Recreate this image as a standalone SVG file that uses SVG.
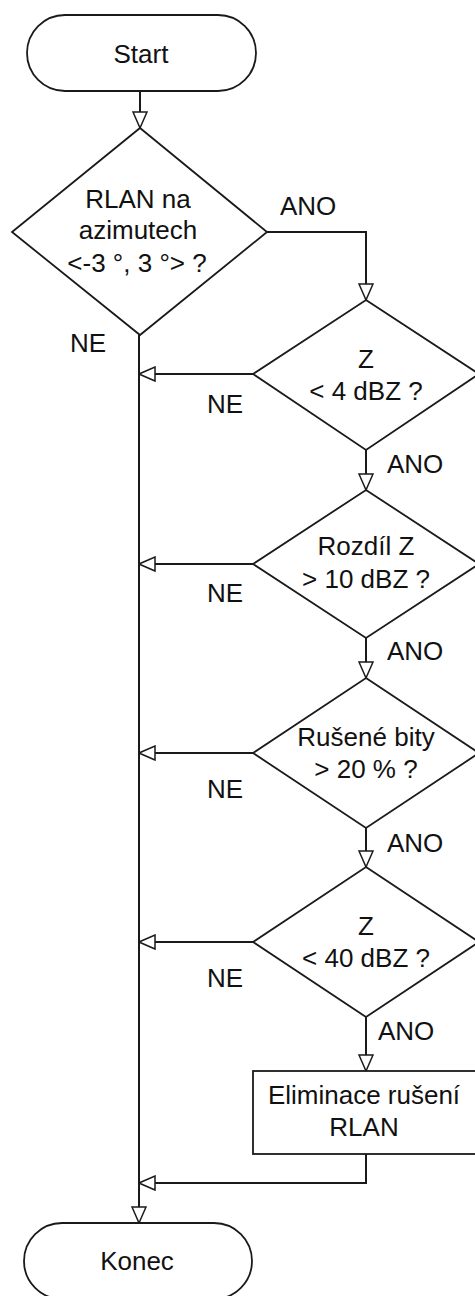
<svg xmlns="http://www.w3.org/2000/svg" width="475" height="1296" viewBox="0 0 475 1296">
<style>
.shape{fill:#fff;stroke:#1a1a1a;stroke-width:1.8}
.conn{fill:none;stroke:#1a1a1a;stroke-width:2}
text{font-family:"Liberation Sans",Arial,sans-serif;font-size:26px;fill:#111}
.c{text-anchor:middle}
</style>
<defs>
<marker id="arr" markerUnits="userSpaceOnUse" markerWidth="18" markerHeight="16" refX="16" refY="7" orient="auto" viewBox="-1 -1 18 16">
<path d="M0,0 L16,7 L0,14 Z" fill="#fff" stroke="#1a1a1a" stroke-width="1.5"/>
</marker>
</defs>
<rect width="475" height="1296" fill="#fff"/>
<g id="connectors">
<path class="conn" d="M140,91 V128" marker-end="url(#arr)"/>
<path class="conn" d="M267,232 H366 V300" marker-end="url(#arr)"/>
<path class="conn" d="M139,335 V1223" marker-end="url(#arr)"/>
<path class="conn" d="M253,374 H139" marker-end="url(#arr)"/>
<path class="conn" d="M366,450 V490" marker-end="url(#arr)"/>
<path class="conn" d="M253,564 H139" marker-end="url(#arr)"/>
<path class="conn" d="M366,638 V678" marker-end="url(#arr)"/>
<path class="conn" d="M253,753 H139" marker-end="url(#arr)"/>
<path class="conn" d="M366,828 V867" marker-end="url(#arr)"/>
<path class="conn" d="M253,942 H139" marker-end="url(#arr)"/>
<path class="conn" d="M366,1017 V1071" marker-end="url(#arr)"/>
<path class="conn" d="M366,1154 V1183 H139" marker-end="url(#arr)"/>
<text x="280" y="215">ANO</text>
<text x="70" y="352">NE</text>
<text x="207" y="413">NE</text>
<text x="387" y="473">ANO</text>
<text x="207" y="602">NE</text>
<text x="387" y="660">ANO</text>
<text x="207" y="798">NE</text>
<text x="387" y="852">ANO</text>
<text x="207" y="987">NE</text>
<text x="378" y="1040">ANO</text>
</g>
<g id="start">
<rect class="shape" x="27" y="15" width="229" height="76" rx="38" ry="38"/>
<text class="c" x="141" y="63">Start</text>
</g>
<g id="d1">
<path class="shape" d="M140,128 L267,232 L140,335 L12,232 Z"/>
<text class="c" x="138" y="208">RLAN na</text>
<text class="c" x="138" y="239">azimutech</text>
<text class="c" x="137" y="272">&lt;-3 °, 3 °&gt; ?</text>
</g>
<g id="d2">
<path class="shape" d="M366,300 L479,374 L366,450 L253,374 Z"/>
<text class="c" x="366" y="368">Z</text>
<text class="c" x="366" y="400">&lt; 4 dBZ ?</text>
</g>
<g id="d3">
<path class="shape" d="M366,490 L479,564 L366,638 L253,564 Z"/>
<text class="c" x="366" y="555">Rozdíl Z</text>
<text class="c" x="366" y="588">&gt; 10 dBZ ?</text>
</g>
<g id="d4">
<path class="shape" d="M366,678 L479,753 L366,828 L253,753 Z"/>
<text class="c" x="366" y="746">Rušené bity</text>
<text class="c" x="366" y="778">&gt; 20 % ?</text>
</g>
<g id="d5">
<path class="shape" d="M366,867 L479,942 L366,1017 L253,942 Z"/>
<text class="c" x="366" y="935">Z</text>
<text class="c" x="366" y="967">&lt; 40 dBZ ?</text>
</g>
<g id="box">
<rect class="shape" x="253" y="1071" width="226" height="83"/>
<text class="c" x="364" y="1104">Eliminace rušení</text>
<text class="c" x="364" y="1136">RLAN</text>
</g>
<g id="end">
<rect class="shape" x="24" y="1223" width="228" height="76" rx="38" ry="38"/>
<text class="c" x="137" y="1270">Konec</text>
</g>
</svg>
